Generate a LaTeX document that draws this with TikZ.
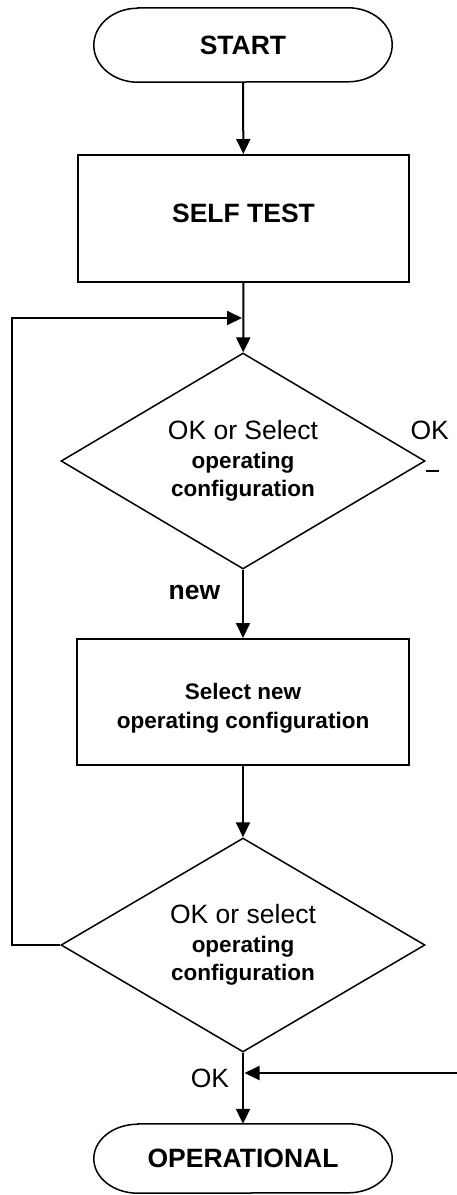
\documentclass[tikz,border=0pt]{standalone}
\usepackage{fontspec}
\setmainfont{Liberation Sans}
\usetikzlibrary{arrows.meta,shapes.geometric}
\begin{document}
\begin{tikzpicture}[x=1pt,y=-1pt,
  big/.style={font=\fontsize{26.5}{30}\selectfont},
  bigb/.style={font=\fontsize{26.5}{30}\selectfont\bfseries},
  smallb/.style={font=\fontsize{22.5}{29}\selectfont\bfseries, align=center},
  term/.style={minimum width=298pt, inner sep=0pt,
    font=\fontsize{26.5}{30}\selectfont\bfseries},
  termline/.style={line width=1.5pt},
  procbox/.style={draw, line width=2pt, inner sep=0pt},
  decision/.style={draw, diamond, line width=1.5pt, minimum width=364pt, aspect=1.69,
    inner sep=0pt, align=center, font=\fontsize{22.5}{28.5}\selectfont\bfseries},
  conn/.style={line width=2pt, -{Triangle[length=15pt,width=14pt]}},
  plain/.style={line width=2pt}]
\useasboundingbox (0,0) rectangle (456,1195);

% nodes
\node[term, minimum height=74pt] (start) at (243,45) {START};
\node[procbox, minimum width=331pt, minimum height=127pt] (selftest) at (243.5,218.5) {};
\node[bigb] (selftesttxt) at (243.5,213) {SELF TEST};
\node[decision, minimum height=216pt] (d1) at (243,461)
  {{\fontsize{26.5}{28.5}\selectfont\mdseries OK or Select}\\operating\\configuration};
\node[procbox, minimum width=332pt, minimum height=126pt] (sel) at (243,702) {};
\node[smallb] (seltxt) at (243,708) {Select new\\operating configuration};
\node[decision, minimum height=214pt] (d2) at (243,945)
  {{\fontsize{26.5}{28.5}\selectfont\mdseries OK or select}\\operating\\configuration};
\node[term, minimum height=69pt] (op) at (243,1158.5) {OPERATIONAL};

% terminator outlines (elliptical ends)
\draw[termline] ([xshift=44pt]start.north west) -- ([xshift=-44pt]start.north east)
  arc[start angle=-90, end angle=90, x radius=44, y radius=37]
  -- ([xshift=44pt]start.south west)
  arc[start angle=90, end angle=270, x radius=44, y radius=37] -- cycle;
\draw[termline] ([xshift=44pt]op.north west) -- ([xshift=-44pt]op.north east)
  arc[start angle=-90, end angle=90, x radius=44, y radius=34.5]
  -- ([xshift=44pt]op.south west)
  arc[start angle=90, end angle=270, x radius=44, y radius=34.5] -- cycle;

% labels
\node[bigb] (newlbl) at (194.5,592) {new};
\node[big] (oklbl1) at (429.7,430) {OK};
\node[big] (oklbl2) at (210,1078) {OK};

% helper coordinates
\coordinate (loopc) at (12,318);
\coordinate (join) at (242,318);
\coordinate (rin) at (457,1073);
\coordinate (rjoin) at (244.5,1073);
\coordinate (dashA) at (426,470.5);
\coordinate (dashB) at (439,470.5);

% connectors
\draw[conn] (start) -- (selftest);
\draw[conn] (selftest) -- (d1);
\draw[conn] (d1) -- (sel);
\draw[conn] (sel) -- (d2);
\draw[conn] (d2) -- (op);
\draw[conn] (d2.west) -| (loopc) -- (join);
\draw[conn] (rin) -- (rjoin);
\draw[plain] (dashA) -- (dashB);
\end{tikzpicture}
\end{document}
